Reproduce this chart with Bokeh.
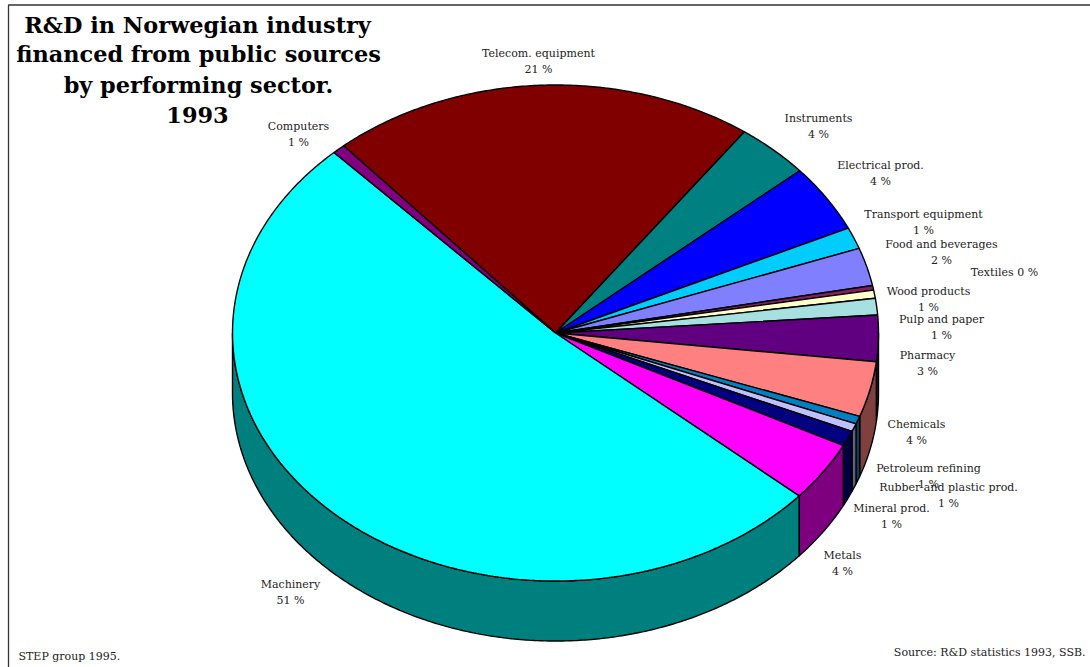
import math

from bokeh.core.properties import value
from bokeh.embed import file_html
from bokeh.models import ColumnDataSource, Range1d
from bokeh.plotting import figure
from bokeh.resources import INLINE

# Share of publicly financed R&D per sector, clockwise from the top of the pie.
sectors = [
    "Telecom. equipment", "Instruments", "Electrical prod.", "Transport equipment",
    "Food and beverages", "Textiles", "Wood products", "Pulp and paper", "Pharmacy",
    "Chemicals", "Petroleum refining", "Rubber and plastic prod.", "Mineral prod.",
    "Metals", "Machinery", "Computers",
]
shares = [21.3, 3.7, 4.4, 1.4, 2.47, 0.3, 0.53, 1.08, 3.0, 3.6, 0.52, 0.52, 1.0, 3.9, 51.49, 0.64]
colors = [
    "#800000", "#008080", "#0000FF", "#00CCFF", "#8080FF", "#802060", "#FFFFCC", "#A6E0E0",
    "#600080", "#FF8080", "#0080C0", "#C0C0FF", "#000080", "#FF00FF", "#00FFFF", "#800080",
]
# Label anchors: centre x, baseline y of the first line.
label_x = [538, 818, 880, 923, 941, None, 928, 941, 927, 916, 928, 948, 891, 842, 290, 298]
label_y = [53, 118, 165, 214, 244, None, 291, 319, 355, 424, 468, 487, 508, 555, 584, 126]

title_lines = ["R&D in Norwegian industry", "financed from public sources", "by performing sector.", "1993"]
title_x = [197, 198, 198, 197]
title_y = [24, 53, 84, 114]

CX, CY, RX, RY, DEPTH = 555.0, 332.5, 323.0, 248.0, 60.0
START_DEG = -41.0
SERIF = "DejaVu Serif"
LABEL_SIZE = "11px"


def rim(deg):
    t = math.radians(deg)
    return CX + RX * math.sin(t), CY - RY * math.cos(t)


def arc_points(a, b):
    n = max(2, int(abs(b - a) * 2))
    return [rim(a + (b - a) * i / n) for i in range(n + 1)]


def darker(hex_color):
    r, g, b = (int(hex_color[i:i + 2], 16) // 2 for i in (1, 3, 5))
    return f"#{r:02x}{g:02x}{b:02x}"


p = figure(width=1090, height=667, output_backend="svg", toolbar_location=None,
           x_range=Range1d(0, 1090), y_range=Range1d(667, 0), min_border=0)
p.axis.visible = False
p.grid.visible = False
p.outline_line_color = None
p.background_fill_color = "white"

total = sum(shares)
angles = [START_DEG]
for s in shares:
    angles.append(angles[-1] + 360.0 * s / total)

# Rim wall: only the part of each slice on the near half of the ellipse.
wall_x, wall_y, wall_c = [], [], []
for i, c in enumerate(colors):
    a, b = max(angles[i], 90.0), min(angles[i + 1], 270.0)
    if b <= a:
        continue
    top = arc_points(a, b)
    outline = top + [(x, y + DEPTH) for x, y in reversed(top)]
    wall_x.append([q[0] for q in outline])
    wall_y.append([q[1] for q in outline])
    wall_c.append(darker(c))
p.patches("x", "y", source=ColumnDataSource(dict(x=wall_x, y=wall_y, c=wall_c)),
          fill_color="c", line_color="black", line_width=1.4)

# Top face of the pie.
face_x, face_y = [], []
for i in range(len(shares)):
    outline = [(CX, CY)] + arc_points(angles[i], angles[i + 1])
    face_x.append([q[0] for q in outline])
    face_y.append([q[1] for q in outline])
p.patches("x", "y", source=ColumnDataSource(dict(x=face_x, y=face_y, c=colors)),
          fill_color="c", line_color="black", line_width=1.4)

# Two-line sector labels; the percentage is the rounded share.
lx, ly, lt = [], [], []
for name, s, x, y in zip(sectors, shares, label_x, label_y):
    if x is None:
        continue
    pct = f"{int(s + 0.5)} %"
    lx += [x, x]
    ly += [y, y + 15.5]
    lt += [name, pct]
p.text(lx, ly, lt, text_font=value(SERIF), text_font_size=LABEL_SIZE, text_color="#222222",
       text_align="center", text_baseline="alphabetic")
p.text([1004], [272], ["Textiles 0 %"], text_font=value(SERIF), text_font_size=LABEL_SIZE,
       text_color="#222222", text_align="center", text_baseline="alphabetic")

# Title block.
p.text(title_x, title_y, title_lines, text_font=value(SERIF), text_font_size="22.4px",
       text_font_style="bold", text_color="black", text_align="center", text_baseline="alphabetic")

# Credits along the lower edge.
p.text([18], [656], ["STEP group 1995."], text_font=value(SERIF), text_font_size=LABEL_SIZE,
       text_color="#222222", text_align="left", text_baseline="alphabetic")
p.text([1085], [652], ["Source: R&D statistics 1993, SSB."], text_font=value(SERIF),
       text_font_size=LABEL_SIZE, text_color="#222222", text_align="right", text_baseline="alphabetic")

# Frame along the left and top edges.
p.line([8, 8, 1090], [667, 4.5, 4.5], line_color="#333333", line_width=1.3)

open("out.html", "w").write(file_html(p, INLINE))
